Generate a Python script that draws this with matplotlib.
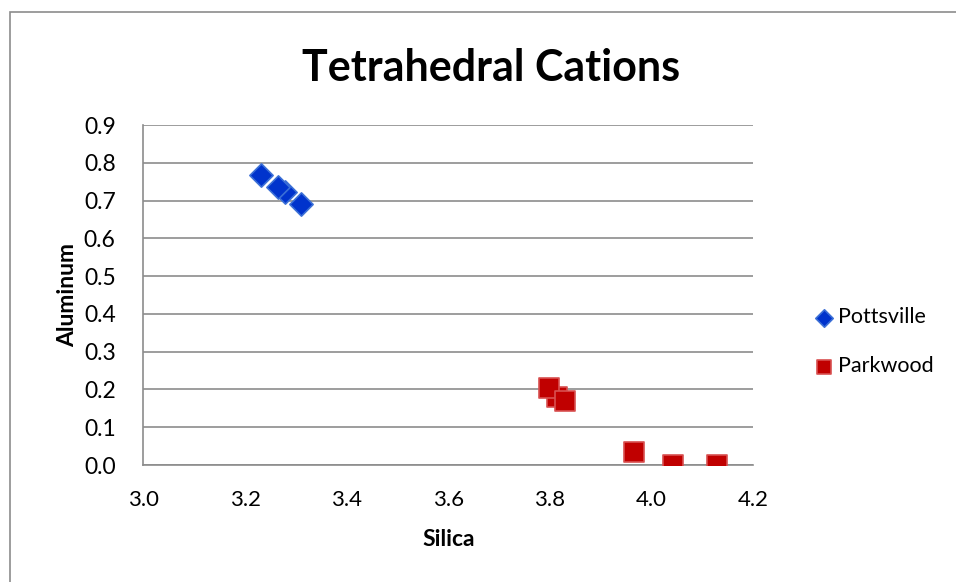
import matplotlib.pyplot as plt
from matplotlib.patches import Rectangle

# Tetrahedral cation site occupancy: aluminum vs silica
pottsville_si = [3.232, 3.278, 3.265, 3.310]
pottsville_al = [0.768, 0.722, 0.736, 0.692]
parkwood_si = [3.8135, 3.798, 3.830, 3.965, 4.043, 4.129]
parkwood_al = [0.180, 0.203, 0.170, 0.035, 0.000, 0.000]

x_ticks = [3.0, 3.2, 3.4, 3.6, 3.8, 4.0, 4.2]
y_ticks = [0.0, 0.1, 0.2, 0.3, 0.4, 0.5, 0.6, 0.7, 0.8, 0.9]

plt.rcParams['font.family'] = ['Lato', 'DejaVu Sans']

fig = plt.figure(figsize=(9.56, 5.82), dpi=100)
fig.patches.append(Rectangle((10 / 956, -0.1), 1.2, 1 - 12 / 582 + 0.1,
                             transform=fig.transFigure, fill=False,
                             edgecolor='#8c8c8c', linewidth=1.2))

ax = fig.add_axes([0.1501, 0.2010, 0.6376, 0.5842])
ax.scatter(pottsville_si, pottsville_al, marker='D', s=140, color='#0033cc',
           edgecolors='#3b6fd6', linewidths=1.2, label='Pottsville', zorder=3)
ax.scatter(parkwood_si, parkwood_al, marker='s', s=190, color='#c00000',
           edgecolors='#d85050', linewidths=1.2, label='Parkwood', zorder=3)

ax.set_xlim(3.0, 4.2)
ax.set_ylim(0.0, 0.9)
ax.set_xticks(x_ticks)
ax.set_yticks(y_ticks)
ax.set_xticklabels([f'{v:.1f}' for v in x_ticks])
ax.set_yticklabels([f'{v:.1f}' for v in y_ticks])
ax.tick_params(axis='x', length=0, labelsize=16, pad=18)
ax.tick_params(axis='y', length=0, labelsize=16.5, pad=20)
ax.grid(axis='y', color='#8c8c8c', linewidth=1.2)
ax.set_axisbelow(True)
for side in ['top', 'right']:
    ax.spines[side].set_visible(False)
for side in ['left', 'bottom']:
    ax.spines[side].set_color('#8c8c8c')
    ax.spines[side].set_linewidth(1.2)

ax.set_xlabel('Silica', fontsize=16.5, fontweight='bold', labelpad=14)
ax.set_ylabel('Aluminum', fontsize=16.5, fontweight='bold', labelpad=4)
fig.text(491 / 956, 1 - 68 / 582, 'Tetrahedral Cations', fontsize=31,
         fontweight='bold', ha='center', va='center')

ax.legend(loc='center left', bbox_to_anchor=(1.063, 0.362), frameon=False,
          fontsize=15.5, handletextpad=0.05, labelspacing=1.35, markerscale=0.75,
          handlelength=1.2)

fig.savefig('out.png', dpi=100)
